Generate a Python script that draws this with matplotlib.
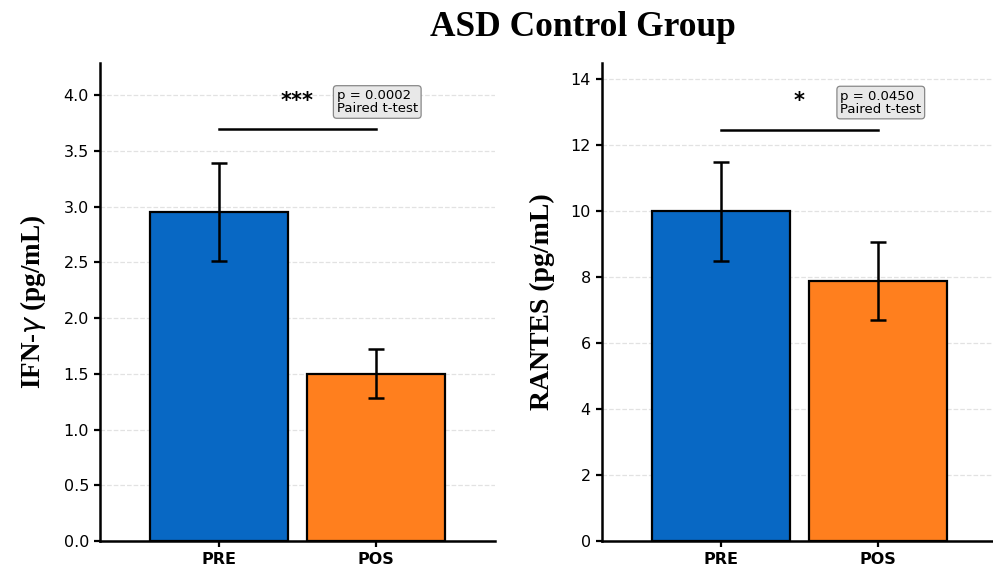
import numpy as np
import matplotlib
matplotlib.use("Agg")
import matplotlib.pyplot as plt

# Data
groups = ["PRE", "POS"]
colors = ["#0868c4", "#ff7f1e"]

ifn_means = [2.95, 1.50]
ifn_errs = [0.44, 0.22]
rantes_means = [10.0, 7.88]
rantes_errs = [1.5, 1.18]

ifn_ticks = [0.0, 0.5, 1.0, 1.5, 2.0, 2.5, 3.0, 3.5, 4.0]
rantes_ticks = [0, 2, 4, 6, 8, 10, 12, 14]

ifn_p = "p = 0.0002\nPaired t-test"
rantes_p = "p = 0.0450\nPaired t-test"

serif = "Liberation Serif"

fig = plt.figure(figsize=(9.93, 5.67), dpi=100)
ax1 = fig.add_axes([0.1007, 0.0459, 0.3978, 0.8430])
ax2 = fig.add_axes([0.6062, 0.0459, 0.3978, 0.8430])


def draw_panel(ax, means, errs, ticks, ylim, ylabel, lsize, line_y, star,
               star_y, ptext, p_x, p_y):
    x = np.arange(len(groups))
    ax.bar(x, means, width=0.88, color=colors, edgecolor="black",
           linewidth=1.6, yerr=errs, capsize=6,
           error_kw=dict(elinewidth=1.8, capthick=1.8, ecolor="black"),
           zorder=3)
    ax.set_xlim(-0.76, 1.76)
    ax.set_ylim(*ylim)
    ax.set_yticks(ticks)
    ax.set_xticks(x)
    ax.set_xticklabels(groups, fontweight="bold", fontsize=11.5)
    ax.tick_params(axis="both", labelsize=11.5, width=1.6, length=4.5)
    ax.yaxis.grid(True, linestyle="--", color="#e2e2e2", linewidth=0.9)
    ax.set_axisbelow(True)
    for s in ["top", "right"]:
        ax.spines[s].set_visible(False)
    for s in ["left", "bottom"]:
        ax.spines[s].set_linewidth(1.8)
    ax.set_ylabel(ylabel, fontsize=lsize, fontweight="bold", family=serif,
                  labelpad=11)
    # significance bracket
    ax.plot([x[0], x[1]], [line_y, line_y], color="black", linewidth=1.8)
    ax.text(0.5, star_y, star, ha="center", va="center", fontsize=15,
            fontweight="bold")
    ax.text(p_x, p_y, ptext, ha="left", va="center", fontsize=9.5,
            linespacing=1.0,
            bbox=dict(boxstyle="round,pad=0.25", facecolor="#e8e8e8",
                      edgecolor="#888888", linewidth=0.9))


draw_panel(ax1, ifn_means, ifn_errs, ifn_ticks, (0, 4.29),
           r"IFN-$\gamma$ (pg/mL)", 19.5, 3.70, "***", 3.95,
           ifn_p, 0.75, 3.94)
draw_panel(ax2, rantes_means, rantes_errs, rantes_ticks, (0, 14.5),
           "RANTES (pg/mL)", 20, 12.48, "*", 13.35,
           rantes_p, 0.76, 13.3)

fig.text(0.587, 0.952, "ASD Control Group", ha="center", va="center",
         fontsize=25.5, fontweight="bold", family=serif)

fig.savefig("out.png", dpi=100)
